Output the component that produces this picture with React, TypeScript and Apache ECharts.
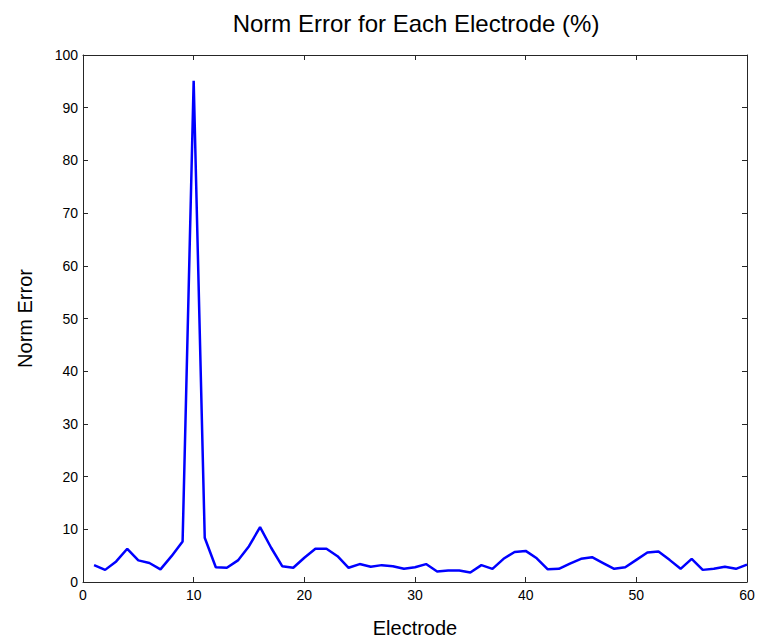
import React, { useEffect, useRef } from "react";
import * as echarts from "echarts";

const electrodes: number[] = Array.from({ length: 60 }, (_, i) => i + 1);
const normError: number[] = [
  3.2, 2.3, 3.9, 6.3, 4.1, 3.6, 2.4, 4.9, 7.7, 95.1,
  8.4, 2.8, 2.7, 4.1, 6.8, 10.4, 6.5, 3.0, 2.7, 4.6,
  6.3, 6.3, 4.9, 2.7, 3.4, 2.9, 3.2, 3.0, 2.5, 2.8,
  3.4, 2.0, 2.2, 2.2, 1.8, 3.2, 2.5, 4.4, 5.7, 5.9,
  4.5, 2.4, 2.5, 3.5, 4.4, 4.7, 3.6, 2.5, 2.8, 4.2,
  5.6, 5.8, 4.2, 2.5, 4.4, 2.3, 2.5, 2.9, 2.5, 3.3,
];
const titleText = "Norm Error for Each Electrode (%)";
const xName = "Electrode";
const yName = "Norm Error";

export default function App() {
  const ref = useRef<HTMLDivElement>(null);
  useEffect(() => {
    if (!ref.current) return;
    const chart = echarts.init(ref.current, null, { renderer: "svg" });
    const font = "'Liberation Sans', Arial, Helvetica, sans-serif";
    const axisLine = { show: true, onZero: false, lineStyle: { color: "#262626", width: 1 } };
    const tick = { show: true, inside: true, length: 5, lineStyle: { color: "#262626" } };
    chart.setOption({
      animation: false,
      backgroundColor: "#ffffff",
      title: {
        text: titleText,
        left: 411,
        textAlign: "center",
        top: 6,
        textStyle: { fontFamily: font, fontSize: 24, fontWeight: "normal", color: "#000" },
      },
      grid: { left: 83, right: 13, top: 55, bottom: 62, containLabel: false },
      xAxis: [
        {
          type: "value",
          min: 0,
          max: 60,
          interval: 10,
          position: "bottom",
          name: xName,
          nameLocation: "middle",
          nameGap: 36,
          nameTextStyle: { fontFamily: font, fontSize: 20, color: "#000" },
          axisLine,
          axisTick: tick,
          axisLabel: { fontFamily: font, fontSize: 14, color: "#000", margin: 6 },
          splitLine: { show: false },
        },
        {
          type: "value",
          min: 0,
          max: 60,
          interval: 10,
          position: "top",
          axisLine,
          axisTick: tick,
          axisLabel: { show: false },
          splitLine: { show: false },
        },
      ],
      yAxis: [
        {
          type: "value",
          min: 0,
          max: 100,
          interval: 10,
          position: "left",
          name: yName,
          nameLocation: "middle",
          nameGap: 48,
          nameRotate: 90,
          nameTextStyle: { fontFamily: font, fontSize: 20, color: "#000" },
          axisLine,
          axisTick: tick,
          axisLabel: { fontFamily: font, fontSize: 14, color: "#000", margin: 5 },
          splitLine: { show: false },
        },
        {
          type: "value",
          min: 0,
          max: 100,
          interval: 10,
          position: "right",
          axisLine,
          axisTick: tick,
          axisLabel: { show: false },
          splitLine: { show: false },
        },
      ],
      series: [
        {
          type: "line",
          xAxisIndex: 0,
          yAxisIndex: 0,
          data: electrodes.map((e, i) => [e, normError[i]]),
          showSymbol: false,
          symbol: "none",
          lineStyle: { color: "#0000ff", width: 2.5 },
          itemStyle: { color: "#0000ff" },
        },
      ],
    });
    return () => chart.dispose();
  }, []);
  return <div ref={ref} style={{ width: 760, height: 644, position: "absolute", left: 0, top: 0 }} />;
}
